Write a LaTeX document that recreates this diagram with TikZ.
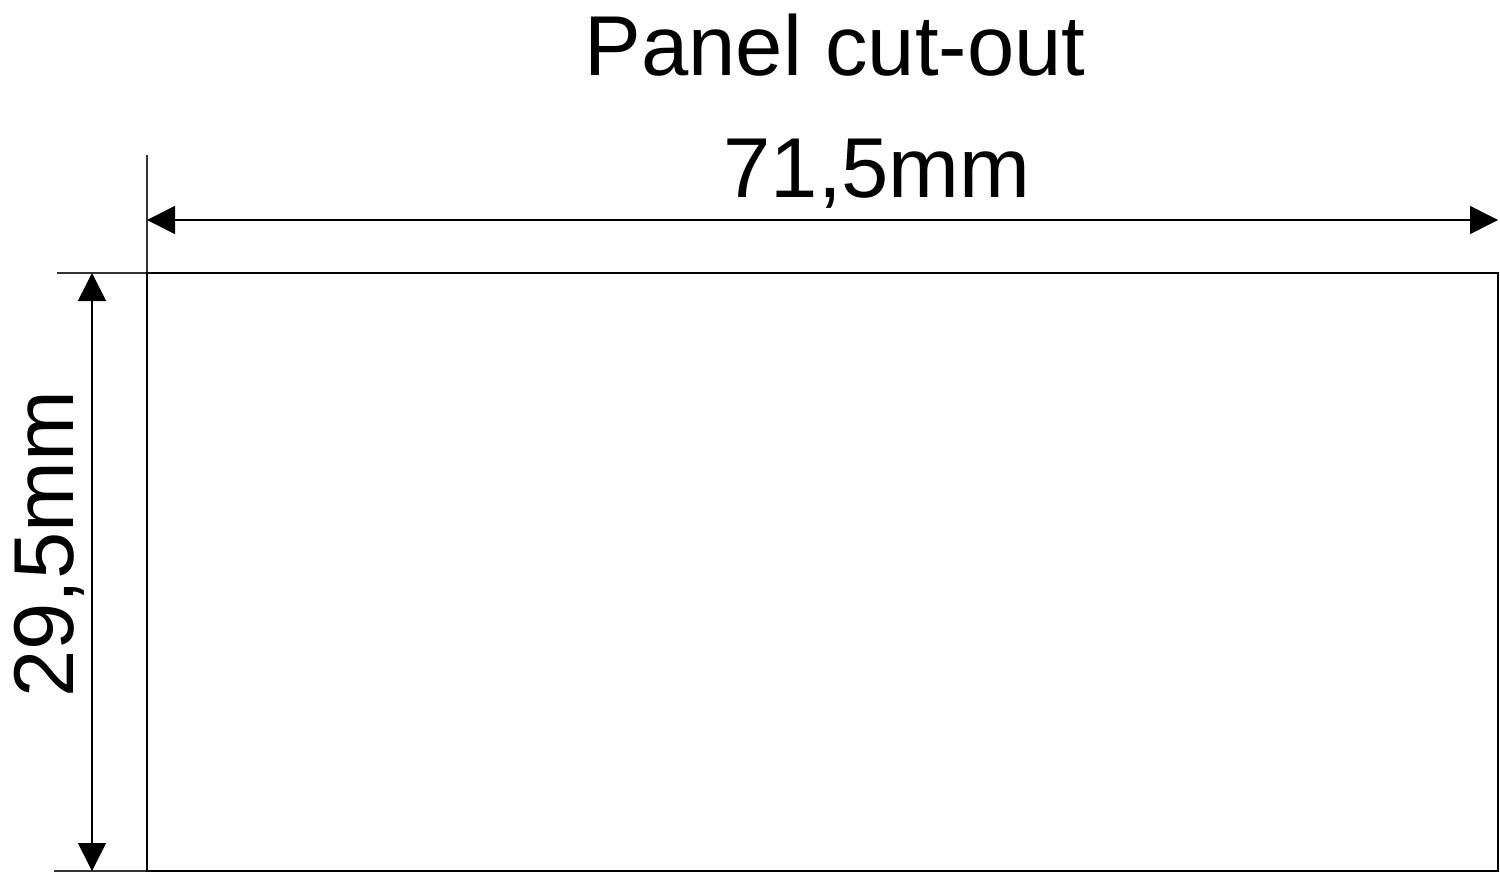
\documentclass[tikz,border=0pt]{standalone}
\usepackage{fontspec}
\setmainfont{Liberation Sans}
\usetikzlibrary{arrows.meta}
\begin{document}
\begin{tikzpicture}[x=0.5pt,y=-0.5pt,
  dimline/.style={line width=0.75pt,{Triangle[length=14pt,width=14pt]}-{Triangle[length=14pt,width=14pt]}},
  extline/.style={line width=0.75pt,draw=black!80},
  cutout/.style={draw,line width=1.3pt},
  lbl/.style={font=\fontsize{42.5pt}{50pt}\selectfont,inner sep=0pt,anchor=base}]
\useasboundingbox (0,0) rectangle (1500,873);
\coordinate (tl) at (147,273);
\coordinate (br) at (1498,871);
\coordinate (e1) at (147,155);
\coordinate (e2) at (57,273);
\coordinate (e3) at (54,871);
\coordinate (e4) at (175,871);
\coordinate (ha) at (147,220);
\coordinate (hb) at (1498,220);
\coordinate (va) at (92,273);
\coordinate (vb) at (92,871);
\draw[extline] (e1) -- (tl);
\draw[extline] (e2) -- (tl);
\draw[extline] (e3) -- (e4);
\draw[cutout] (tl) rectangle (br);
\draw[dimline] (ha) -- (hb);
\draw[dimline] (va) -- (vb);
\node[lbl] (title) at (835,75) {Panel cut-out};
\node[lbl] (w) at (877,197) {71,5mm};
\node[lbl,rotate=90] (h) at (73,544) {29,5mm};
\end{tikzpicture}
\end{document}
